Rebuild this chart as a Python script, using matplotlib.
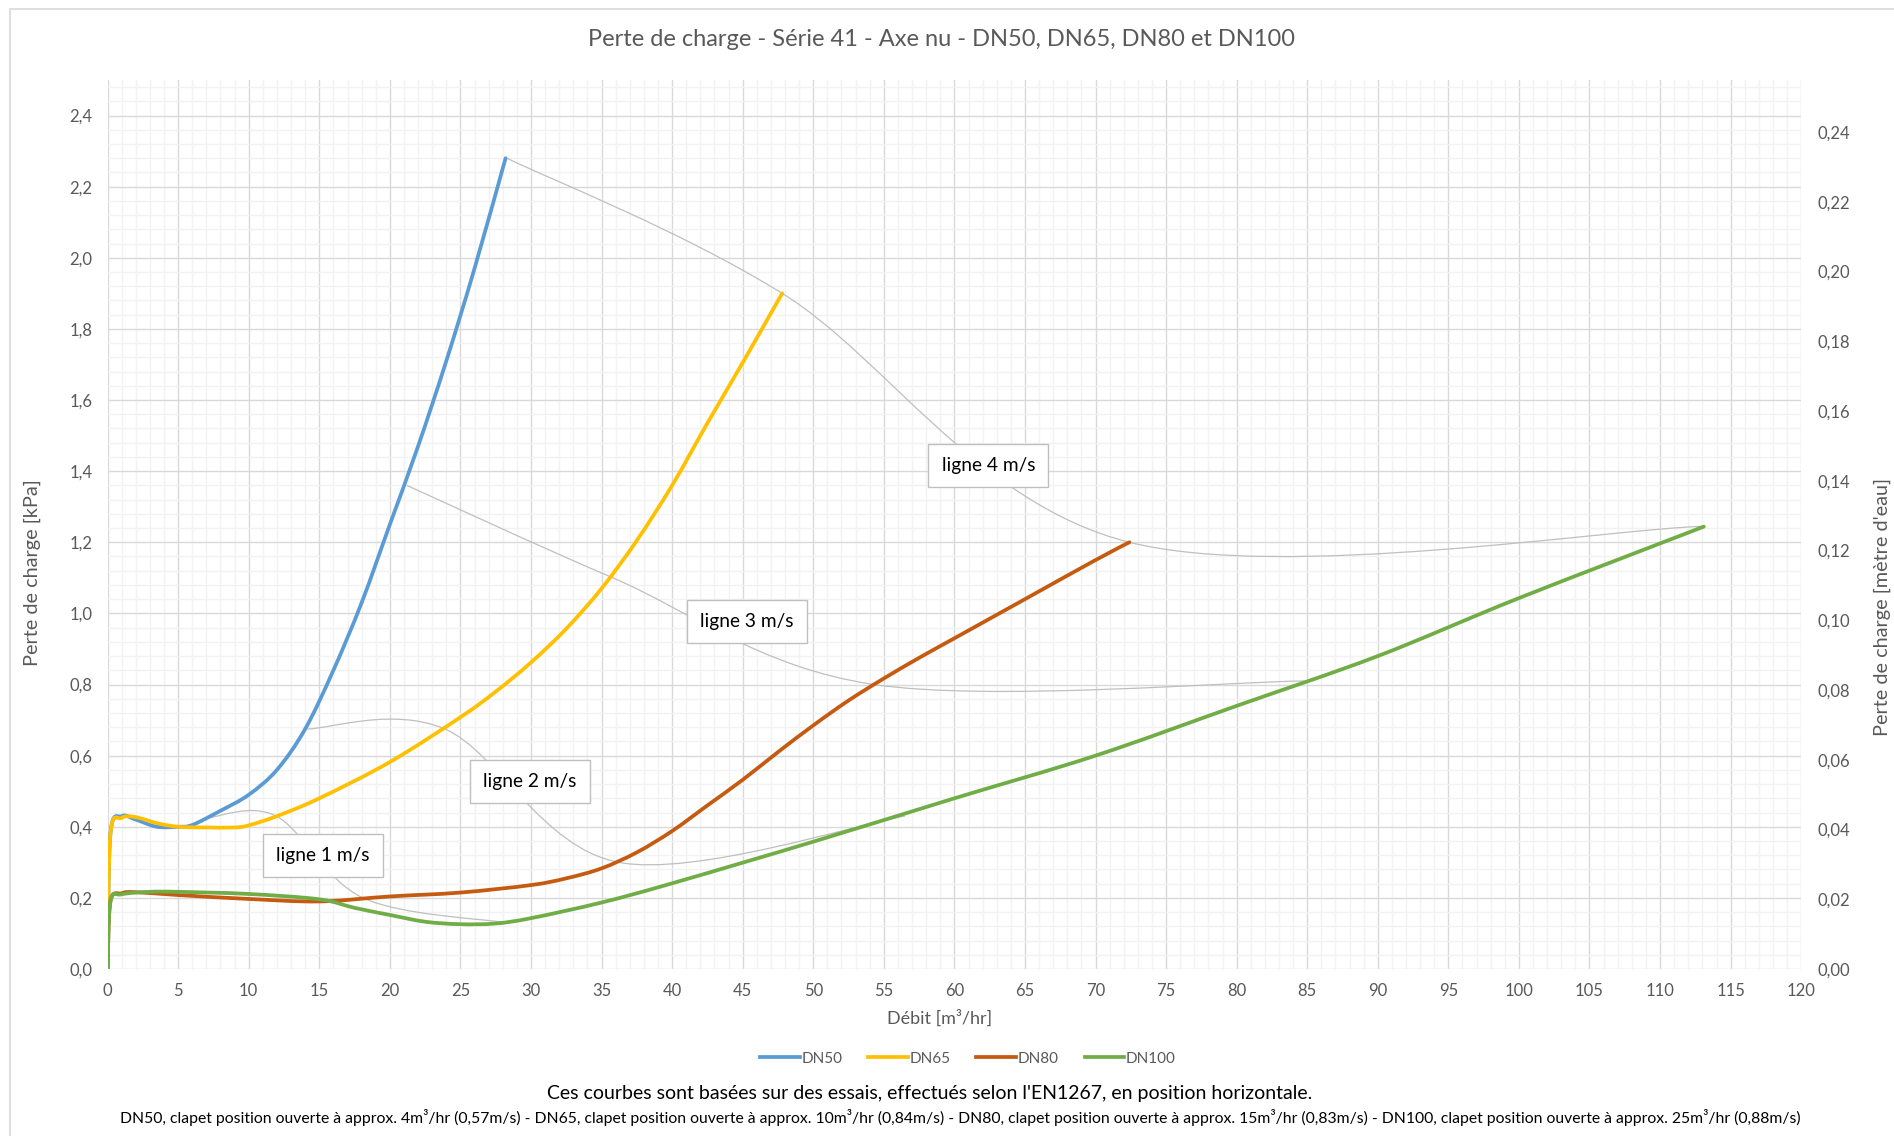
import numpy as np
import matplotlib
matplotlib.use("Agg")
import matplotlib.pyplot as plt
from matplotlib.path import Path
from matplotlib.patches import PathPatch, Rectangle
from matplotlib.lines import Line2D
from matplotlib.ticker import MultipleLocator, FuncFormatter

plt.rcParams['font.family'] = ['Lato', 'DejaVu Sans']

# débit [m3/hr] / perte de charge [kPa]
dn50_q = [0, 0.2, 1, 2, 3.5, 5, 6, 8, 10, 12, 14, 16, 18, 20, 22, 24, 26, 28.2]
dn50_dp = [0, 0.38, 0.43, 0.42, 0.40, 0.40, 0.405, 0.445, 0.49, 0.56, 0.675, 0.84, 1.03, 1.25, 1.47, 1.71, 1.97, 2.28]

dn65_q = [0, 0.2, 1, 2, 3.5, 5, 7, 9, 10, 12, 15, 20, 25, 27.5, 30, 32.5, 35, 37.5, 40, 42.5, 45, 47.8]
dn65_dp = [0, 0.38, 0.425, 0.427, 0.41, 0.40, 0.398, 0.398, 0.404, 0.43, 0.48, 0.582, 0.708, 0.78, 0.862, 0.957,
           1.07, 1.205, 1.36, 1.535, 1.705, 1.90]

dn80_q = [0, 0.2, 1, 2, 5, 10, 15, 20, 25, 30, 32.5, 35, 37.5, 40, 42.5, 45, 47.5, 50, 52.5, 55, 57.5, 60, 65, 70,
          72.4]
dn80_dp = [0, 0.19, 0.213, 0.216, 0.208, 0.197, 0.19, 0.204, 0.215, 0.236, 0.255, 0.283, 0.328, 0.388, 0.46,
           0.532, 0.61, 0.685, 0.755, 0.817, 0.875, 0.93, 1.04, 1.15, 1.20]

dn100_q = [0, 0.2, 1, 3, 5, 10, 15, 17.5, 20, 22.5, 25, 27.5, 30, 35, 40, 50, 60, 70, 80, 90, 100, 113.1]
dn100_dp = [0, 0.19, 0.21, 0.217, 0.217, 0.211, 0.196, 0.172, 0.152, 0.133, 0.126, 0.128, 0.143, 0.187, 0.241,
            0.358, 0.48, 0.60, 0.74, 0.88, 1.043, 1.244]

series_names = ['DN50', 'DN65', 'DN80', 'DN100']
series_colors = ['#5B9BD5', '#FFC000', '#C55A11', '#70AD47']

# lignes de vitesse : un point par diamètre (DN50, DN65, DN80, DN100)
ligne_names = ['ligne 1 m/s', 'ligne 2 m/s', 'ligne 3 m/s', 'ligne 4 m/s']
ligne_q = [[7.07, 11.95, 18.1, 28.3],
           [14.14, 23.9, 36.2, 56.5],
           [21.2, 35.8, 54.3, 84.8],
           [28.3, 47.8, 72.4, 113.1]]
ligne_dp = [[0.425, 0.43, 0.20, 0.13],
            [0.675, 0.675, 0.30, 0.43],
            [1.36, 1.10, 0.80, 0.81],
            [2.28, 1.90, 1.20, 1.245]]
ligne_label_pos = [(15.27, 0.318), (29.94, 0.528), (45.3, 0.976), (62.4, 1.416)]

x_ticks = np.arange(0, 121, 5)
y_ticks = np.arange(0, 2.41, 0.2)
y2_ticks = np.arange(0, 0.241, 0.02)


def smooth_path(x, y):
    # lissage type Excel (bezier, 1/6 des voisins)
    pts = np.column_stack([x, y]).astype(float)
    n = len(pts)
    verts = [pts[0]]
    codes = [Path.MOVETO]
    for i in range(n - 1):
        p0 = pts[i - 1] if i > 0 else pts[i]
        p1 = pts[i]
        p2 = pts[i + 1]
        p3 = pts[i + 2] if i + 2 < n else pts[i + 1]
        verts += [p1 + (p2 - p0) / 6, p2 - (p3 - p1) / 6, p2]
        codes += [Path.CURVE4] * 3
    return Path(verts, codes)


fig = plt.figure(figsize=(18.94, 11.36), dpi=100)
fig.patches.append(Rectangle((10 / 1894, -0.1), 1.2, 1 - 9 / 1136 + 0.1, transform=fig.transFigure,
                             fill=False, ec='#d9d9d9', lw=1.2))

ax = fig.add_axes([0.0568, 0.147, 0.8942, 0.7826])
ax.set_xlim(0, 120)
ax.set_ylim(0, 2.5)
ax.set_xticks(x_ticks)
ax.set_yticks(y_ticks)
ax.xaxis.set_minor_locator(MultipleLocator(1))
ax.yaxis.set_minor_locator(MultipleLocator(0.04))
ax.grid(which='major', color='#d9d9d9', lw=1.0)
ax.grid(which='minor', color='#f2f2f2', lw=1.0)
ax.set_axisbelow(True)
for s in ax.spines.values():
    s.set_visible(False)
ax.tick_params(which='both', length=0, labelsize=12, labelcolor='#595959')
ax.tick_params(axis='y', pad=11)
ax.tick_params(axis='x', pad=10)
ax.yaxis.set_major_formatter(FuncFormatter(lambda v, p: f"{v:.1f}".replace('.', ',')))

for q, dp in zip(ligne_q, ligne_dp):
    ax.add_patch(PathPatch(smooth_path(q, dp), fill=False, ec='#bfbfbf', lw=0.9, zorder=3))

curves = [(dn50_q, dn50_dp), (dn65_q, dn65_dp), (dn80_q, dn80_dp), (dn100_q, dn100_dp)]
handles = []
for (q, dp), name, col in zip(curves, series_names, series_colors):
    ax.add_patch(PathPatch(smooth_path(q, dp), fill=False, ec=col, lw=2.7,
                           capstyle='round', joinstyle='round', zorder=4))
    handles.append(Line2D([], [], color=col, lw=2.7, label=name))

for name, (lx, ly) in zip(ligne_names, ligne_label_pos):
    ax.text(lx, ly, name, ha='center', va='center', fontsize=13.8, color='black', zorder=6,
            bbox=dict(boxstyle='square,pad=0.68', fc='white', ec='#bfbfbf', lw=1.0))

ax2 = ax.twinx()
ax2.set_ylim(0, 2.5 / 9.80665)
ax2.set_yticks(y2_ticks)
ax2.yaxis.set_major_formatter(FuncFormatter(lambda v, p: f"{v:.2f}".replace('.', ',')))
for s in ax2.spines.values():
    s.set_visible(False)
ax2.tick_params(length=0, labelsize=12, labelcolor='#595959', pad=12)

fig.text(0.497, 0.965, "Perte de charge - Série 41 - Axe nu - DN50, DN65, DN80 et DN100",
         ha='center', va='center', fontsize=17, color='#595959')
fig.text(0.0172, 0.496, "Perte de charge [kPa]", rotation=90, ha='center', va='center',
         fontsize=14.3, color='#595959')
fig.text(0.994, 0.466, "Perte de charge [mètre d'eau]", rotation=90, ha='center', va='center',
         fontsize=14.3, color='#595959')
fig.text(0.496, 0.104, "Débit [m³/hr]", ha='center', va='center', fontsize=13, color='#595959')

fig.legend(handles=handles, loc='center', bbox_to_anchor=(0.511, 0.068), ncol=4, frameon=False,
           fontsize=11, labelcolor='#595959', handlelength=2.6, handletextpad=0.1, columnspacing=1.7)

fig.text(0.491, 0.037, "Ces courbes sont basées sur des essais, effectués selon l'EN1267, en position horizontale.",
         ha='center', va='center', fontsize=14, color='black')
fig.text(0.507, 0.0165, "DN50, clapet position ouverte à approx. 4m³/hr (0,57m/s) - DN65, clapet position ouverte à approx. "
         "10m³/hr (0,84m/s) - DN80, clapet position ouverte à approx. 15m³/hr (0,83m/s) - DN100, clapet position "
         "ouverte à approx. 25m³/hr (0,88m/s)", ha='center', va='center', fontsize=11.3, color='black')

fig.savefig('out.png', dpi=100)
